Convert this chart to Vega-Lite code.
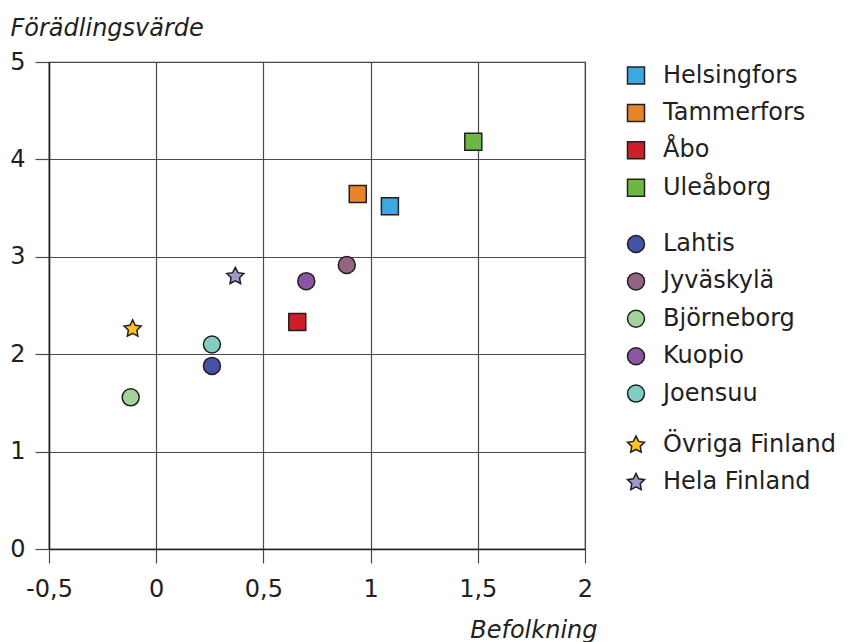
{
  "$schema": "https://vega.github.io/schema/vega-lite/v6.json",
  "autosize": {"type": "none"},
  "padding": {"left": 49, "top": 62, "right": 265, "bottom": 93},
  "width": 536,
  "height": 487,
  "background": "white",
  "config": {
    "font": "DejaVu Sans",
    "view": {"stroke": "#3a3a3a", "strokeWidth": 1.2},
    "axis": {
      "labelFont": "DejaVu Sans",
      "labelFontSize": 24,
      "labelColor": "#231F20",
      "titleFont": "DejaVu Sans",
      "titleFontSize": 24,
      "titleFontStyle": "italic",
      "titleFontWeight": "normal",
      "titleColor": "#231F20",
      "gridColor": "#4a4a4a",
      "gridWidth": 1.2,
      "gridOpacity": 1,
      "tickColor": "#4a4a4a",
      "tickWidth": 1.2,
      "tickSize": 14,
      "domainColor": "#231F20",
      "domainWidth": 1.5
    },
    "legend": {
      "labelFont": "DejaVu Sans",
      "labelFontSize": 24,
      "labelColor": "#231F20",
      "labelLimit": 400,
      "symbolStrokeColor": "#231F20",
      "symbolStrokeWidth": 1.5,
      "symbolSize": 289,
      "rowPadding": 13.4,
      "labelOffset": 15,
      "padding": 0,
      "orient": "none",
      "title": null
    }
  },
  "data": {
    "values": [
      {"name": "Helsingfors", "group": "stor", "befolkning": 1.09, "foradling": 3.52},
      {"name": "Tammerfors", "group": "stor", "befolkning": 0.94, "foradling": 3.645},
      {"name": "Åbo", "group": "stor", "befolkning": 0.658, "foradling": 2.33},
      {"name": "Uleåborg", "group": "stor", "befolkning": 1.479, "foradling": 4.18},
      {"name": "Lahtis", "group": "mellan", "befolkning": 0.26, "foradling": 1.88},
      {"name": "Jyväskylä", "group": "mellan", "befolkning": 0.889, "foradling": 2.916},
      {"name": "Björneborg", "group": "mellan", "befolkning": -0.119, "foradling": 1.557},
      {"name": "Kuopio", "group": "mellan", "befolkning": 0.70, "foradling": 2.75},
      {"name": "Joensuu", "group": "mellan", "befolkning": 0.26, "foradling": 2.10},
      {"name": "Övriga Finland", "group": "ovr", "befolkning": -0.11, "foradling": 2.26},
      {"name": "Hela Finland", "group": "ovr", "befolkning": 0.369, "foradling": 2.80}
    ]
  },
  "encoding": {
    "x": {
      "field": "befolkning", "type": "quantitative",
      "scale": {"domain": [-0.5, 2], "nice": false, "zero": false},
      "axis": {
        "title": "Befolkning",
        "values": [-0.5, 0, 0.5, 1, 1.5, 2],
        "labelExpr": "replace(toString(datum.value), '.', ',')",
        "labelPadding": 14,
        "labelFlush": false,
        "titleAnchor": "end",
        "titleAlign": "right",
        "titleBaseline": "middle",
        "titleX": 548,
        "titleY": 81
      }
    },
    "y": {
      "field": "foradling", "type": "quantitative",
      "scale": {"domain": [0, 5], "nice": false},
      "axis": {
        "title": "Förädlingsvärde",
        "values": [0, 1, 2, 3, 4, 5],
        "labelPadding": 10,
        "labelFlush": false,
        "titleAngle": 0,
        "titleAlign": "left",
        "titleBaseline": "middle",
        "titleX": -39,
        "titleY": -34
      }
    }
  },
  "layer": [
    {
      "transform": [{"filter": "datum.group === 'stor'"}],
      "mark": {"type": "square", "size": 289, "stroke": "#231F20", "strokeWidth": 1.5, "opacity": 1},
      "encoding": {
        "fill": {
          "field": "name", "type": "nominal",
          "scale": {"domain": ["Helsingfors", "Tammerfors", "Åbo", "Uleåborg"], "range": ["#3AAAE0", "#E58527", "#CC1F27", "#6BB944"]},
          "legend": {"symbolType": "square", "legendX": 575, "legendY": 1.5}
        }
      }
    },
    {
      "transform": [{"filter": "datum.group === 'mellan'"}],
      "mark": {"type": "circle", "size": 289, "stroke": "#231F20", "strokeWidth": 1.5, "opacity": 1},
      "encoding": {
        "fill": {
          "field": "name", "type": "nominal",
          "scale": {"domain": ["Lahtis", "Jyväskylä", "Björneborg", "Kuopio", "Joensuu"], "range": ["#4453A3", "#936582", "#A3D39B", "#8B55A3", "#7FCFC3"]},
          "legend": {"symbolType": "circle", "legendX": 575, "legendY": 170}
        }
      }
    },
    {
      "transform": [{"filter": "datum.group === 'ovr'"}],
      "mark": {"type": "point", "filled": true, "size": 320, "stroke": "#231F20", "strokeWidth": 1.5, "opacity": 1,
        "shape": "M0,-1L0.294,-0.405L0.951,-0.309L0.476,0.155L0.588,0.809L0,0.5L-0.588,0.809L-0.476,0.155L-0.951,-0.309L-0.294,-0.405Z"},
      "encoding": {
        "fill": {
          "field": "name", "type": "nominal",
          "scale": {"domain": ["Övriga Finland", "Hela Finland"], "range": ["#FDC21F", "#9C9ACB"]},
          "legend": {"symbolType": "M0,-1L0.294,-0.405L0.951,-0.309L0.476,0.155L0.588,0.809L0,0.5L-0.588,0.809L-0.476,0.155L-0.951,-0.309L-0.294,-0.405Z", "symbolSize": 320, "legendX": 575, "legendY": 371}
        }
      }
    }
  ],
  "resolve": {"scale": {"fill": "independent"}, "legend": {"fill": "independent"}}
}
